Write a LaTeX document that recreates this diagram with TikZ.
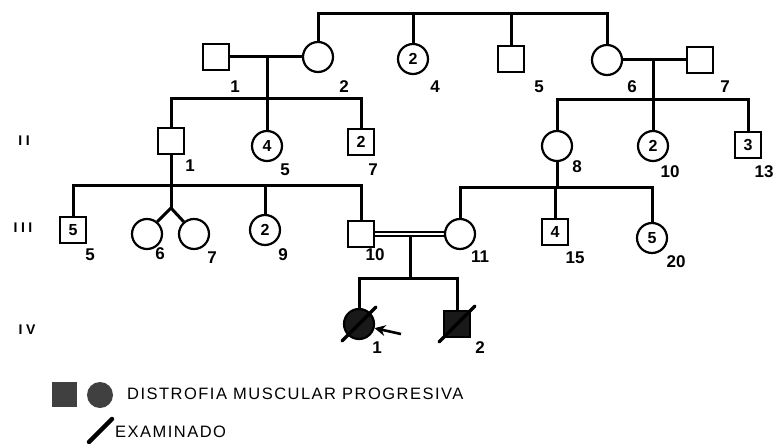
\documentclass[tikz,border=0pt]{standalone}
\usepackage{fontspec}
\setmainfont{Liberation Sans}
\usetikzlibrary{arrows.meta}
\begin{document}
\begin{tikzpicture}[x=1pt,y=-1pt,
  male/.style={draw, rectangle, minimum size=26pt, line width=2.2pt, inner sep=0pt, font=\bfseries\fontsize{16}{16}\selectfont},
  female/.style={draw, circle, minimum size=30pt, line width=2.2pt, inner sep=0pt, font=\bfseries\fontsize{16}{16}\selectfont},
  affm/.style={male, fill=black!90},
  afff/.style={female, fill=black!90},
  lab/.style={inner sep=0pt, font=\bfseries\fontsize{17}{17}\selectfont},
  gen/.style={inner sep=0pt, font=\bfseries\fontsize{14}{14}\selectfont\addfontfeatures{LetterSpace=25}},
  ln/.style={line width=3pt},
  slash/.style={line width=3.5pt, line cap=round},
  legtext/.style={inner sep=0pt, anchor=west, font=\fontsize{16.5}{16.5}\selectfont\addfontfeatures{LetterSpace=9}}]
\useasboundingbox[fill=white] (0,0) rectangle (773,444);

% Generation I
\node[male]   (I1) at (216,57) {};
\node[female] (I2) at (318,57) {};
\node[female] (I4) at (413,59) {2};
\node[male]   (I5) at (511,59) {};
\node[female] (I6) at (607,60) {};
\node[male]   (I7) at (700,60) {};
\coordinate (topL) at (318,14);
\coordinate (topR) at (607,14);
\draw[ln] (I2.north) -- (topL) -- (topR) -- (I6.north);
\draw[ln] (I4.north) -- (I4.north |- topL);
\draw[ln] (I5.north) -- (I5.north |- topL);
\draw[ln] (I1.east) -- (I2.west);
\draw[ln] (I6.east) -- (I7.west);
\coordinate (m1) at (267,57);
\coordinate (m2) at (653,60);

% Generation II
\node[male]   (II1) at (171,141) {};
\node[female] (II5) at (267,146) {4};
\node[male]   (II7) at (361,142) {2};
\node[female] (II8) at (557,146) {};
\node[female] (II10) at (653,146) {2};
\node[male]   (II13) at (748,145) {3};
\coordinate (sI) at (267,98);
\coordinate (sII) at (653,99);
\draw[ln] (II1.north) |- (sI) -| (II7.north);
\draw[ln] (m1) -- (II5.north);
\draw[ln] (II8.north) |- (sII) -| (II13.north);
\draw[ln] (m2) -- (II10.north);

% Generation III
\node[male]   (III5) at (73,230) {5};
\node[female] (III6) at (147,234) {};
\node[female] (III7) at (194,234) {};
\node[female] (III9) at (265,230) {2};
\node[male]   (III10) at (361,234) {};
\node[female] (III11) at (460,234) {};
\node[male]   (III15) at (555,232) {4};
\node[female] (III20) at (652,238) {5};
\coordinate (sIII) at (171,185);
\coordinate (tw) at (171,208);
\coordinate (sIIIr) at (557,187);
\draw[ln] (II1.south) -- (sIII);
\draw[ln] (III5.north) |- (sIII) -| (III10.north);
\draw[ln] (III9.north) -- (III9.north |- sIII);
\draw[ln] (sIII) -- (tw);
\draw[ln] (tw) -- (III6.50);
\draw[ln] (tw) -- (III7.130);
\draw[ln] (II8.south) -- (sIIIr);
\draw[ln] (III11.north) |- (sIIIr) -| (III20.north);
\draw[ln] (III15.north) -- (III15.north |- sIIIr);
% consanguineous mating
\draw[line width=1.8pt] ([yshift=-2.3pt]III10.east) -- ([yshift=-2.3pt]III11.west);
\draw[line width=1.8pt] ([yshift=2.3pt]III10.east) -- ([yshift=2.3pt]III11.west);
\coordinate (m3) at (410,236);
\coordinate (sIV) at (410,278);

% Generation IV
\node[afff] (IV1) at (359,324) {};
\node[affm] (IV2) at (457,324) {};
\draw[ln] (m3) -- (sIV);
\draw[ln] (IV1.north) |- (sIV) -| (IV2.north);
\draw[slash] ([shift={(-17,17)}]IV1.center) -- ([shift={(17,-17)}]IV1.center);
\draw[slash] ([shift={(-18,18)}]IV2.center) -- ([shift={(18,-18)}]IV2.center);
\coordinate (arrT) at (401,334);
\draw[line width=2.6pt, -{Stealth[length=11pt,width=11pt]}] (arrT) -- (IV1.-15);

% numbers
\node[lab] (lI1) at (235,87) {1};
\node[lab] (lI2) at (344,87) {2};
\node[lab] (lI4) at (435,87) {4};
\node[lab] (lI5) at (539,87) {5};
\node[lab] (lI6) at (632,87) {6};
\node[lab] (lI7) at (725,87) {7};
\node[lab] (lII1) at (190,166) {1};
\node[lab] (lII5) at (285,170) {5};
\node[lab] (lII7) at (373,170) {7};
\node[lab] (lII8) at (577,167) {8};
\node[lab] (lII10) at (670,172) {10};
\node[lab] (lII13) at (764,172) {13};
\node[lab] (lIII5) at (90,255) {5};
\node[lab] (lIII6) at (160,254) {6};
\node[lab] (lIII7) at (212,258) {7};
\node[lab] (lIII9) at (283,255) {9};
\node[lab] (lIII10) at (375,255) {10};
\node[lab] (lIII11) at (480,257) {11};
\node[lab] (lIII15) at (575,258) {15};
\node[lab] (lIII20) at (676,262) {20};
\node[lab] (lIV1) at (377,348) {1};
\node[lab] (lIV2) at (480,348) {2};

% generation labels
\node[gen] (gII) at (24,141) {II};
\node[gen] (gIII) at (23,228) {III};
\node[gen] (gIV) at (27,330) {IV};

% legend
\node[rectangle, fill=black!75, minimum size=25pt, inner sep=0pt] (legM) at (64,394) {};
\node[circle, fill=black!75, minimum size=26pt, inner sep=0pt] (legF) at (100,395) {};
\node[legtext] (legT) at (127,394) {DISTROFIA MUSCULAR PROGRESIVA};
\coordinate (slA) at (89,442);
\coordinate (slB) at (112,419);
\draw[line width=4.5pt, line cap=round] (slA) -- (slB);
\node[legtext] (legE) at (115,432) {EXAMINADO};
\end{tikzpicture}
\end{document}
